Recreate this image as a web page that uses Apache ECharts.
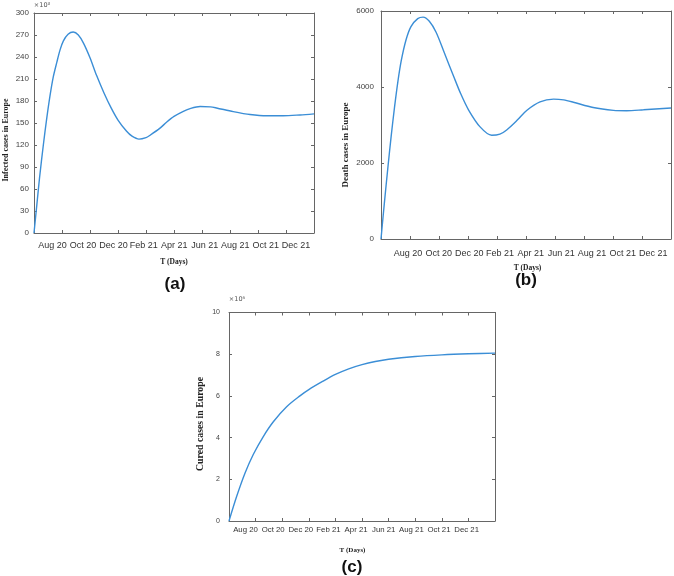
<!DOCTYPE html>
<html><head><meta charset="utf-8">
<script src="https://cdn.jsdelivr.net/npm/echarts@6/dist/echarts.min.js"></script>
<style>html,body{margin:0;padding:0;background:#fff}#c{width:674px;height:576px}</style>
</head><body><div id="c"></div>
<script>
// Tick labels for the time axis (one per 60-day tick)
const monthLabels = ['Aug 20','Oct 20','Dec 20','Feb 21','Apr 21','Jun 21','Aug 21','Oct 21','Dec 21'];

// (a) Infected cases in Europe (x10^3) vs day
const infectedDays = [0,6,12,20,27,34,41,49,56,63,73,84,95,106,120,134,150,165,180,198,210,225,240,248,270,284,300,320,336,356,378,391,427,463,499,534,570,600];
const infectedK   = [0,38,76,120,155,186,212,233,250,262,271,274,270,259,239,215,191,171,154,139,132,128,130,133,143,151,159,166,170,172.5,172,170.5,165.5,161.5,159.8,159.8,161,162.5];

// (b) Death cases in Europe vs day
const deathDays = [0,7,14,21,28,35,42,52,62,76,87,100,114,131,150,165,181,205,229,246,260,282,302,329,357,378,398,439,481,508,543,600];
const deaths    = [0,950,1850,2700,3470,4150,4700,5250,5590,5800,5840,5730,5440,4900,4290,3820,3400,2950,2730,2760,2870,3130,3390,3610,3680,3660,3600,3460,3385,3375,3400,3447];

// (c) Cured cases in Europe (x10^6) vs day
const curedDays = [0,17,36,55,77,100,130,160,180,210,240,270,300,330,360,420,480,540,600];
const curedM    = [0,1.16,2.29,3.2,4.04,4.76,5.48,6.0,6.3,6.68,7.03,7.3,7.5,7.65,7.76,7.89,7.97,8.02,8.05];

const AX = '#666', LBL = '#444', LINE = '#3b8ed6';
const zip = (xs, ys) => xs.map((x, i) => [x, ys[i]]);

const panels = [
  {grid:{left:34,top:13,width:280,height:220}, lab:{left:37.3,width:274,fs:9,margin:8}, ymax:300, yint:30, yfs:8, ymargin:5, data:zip(infectedDays, infectedK)},
  {grid:{left:381,top:11,width:290,height:228}, lab:{left:392.7,width:276,fs:9,margin:10}, ymax:6000, yint:2000, yfs:8, ymargin:7, data:zip(deathDays, deaths)},
  {grid:{left:229,top:312.5,width:266,height:208.5}, lab:{left:231.7,width:248.8,fs:7.8,margin:5}, ymax:10, yint:2, yfs:7, ymargin:9, data:zip(curedDays, curedM)}
];

const grid = [], xAxis = [], yAxis = [], series = [];
const tick = {show:true, inside:true, length:3, lineStyle:{color:AX}};
const line = {show:true, onZero:false, lineStyle:{color:AX, width:1}};
panels.forEach((p, i) => {
  const g = grid.length;
  grid.push(Object.assign({containLabel:false, outerBoundsMode:'none'}, p.grid));
  const xb = xAxis.length;
  xAxis.push({gridIndex:g, type:'value', position:'bottom', min:0, max:600, interval:60, axisLine:line, axisTick:tick, axisLabel:{show:false}, splitLine:{show:false}});
  xAxis.push({gridIndex:g, type:'value', position:'top', min:0, max:600, interval:60, axisLine:line, axisTick:tick, axisLabel:{show:false}, splitLine:{show:false}});
  const yb = yAxis.length;
  yAxis.push({gridIndex:g, type:'value', position:'left', min:0, max:p.ymax, interval:p.yint, axisLine:line, axisTick:tick,
    axisLabel:{fontSize:p.yfs, color:LBL, margin:p.ymargin, fontFamily:'Liberation Sans', formatter:(v) => String(v)}, splitLine:{show:false}});
  yAxis.push({gridIndex:g, type:'value', position:'right', min:0, max:p.ymax, interval:p.yint, axisLine:line, axisTick:tick, axisLabel:{show:false}, splitLine:{show:false}});
  series.push({type:'line', xAxisIndex:xb, yAxisIndex:yb, data:p.data, showSymbol:false, smooth:0.3,
    lineStyle:{color:LINE, width:1.4}, itemStyle:{color:LINE}});
});
// label-only grids carrying the month tick labels
panels.forEach((p) => {
  const g = grid.length;
  grid.push({containLabel:false, outerBoundsMode:'none', left:p.lab.left, width:p.lab.width, top:p.grid.top, height:p.grid.height});
  xAxis.push({gridIndex:g, type:'category', data:monthLabels, boundaryGap:true, position:'bottom',
    axisLine:{show:false}, axisTick:{show:false}, splitLine:{show:false},
    axisLabel:{interval:0, fontSize:p.lab.fs, margin:p.lab.margin, color:'#333', fontFamily:'Liberation Sans'}});
  yAxis.push({gridIndex:g, type:'value', show:false, min:0, max:1});
});

const serif = 'Liberation Serif';
function vtext(x, y, t, fs) {
  return {type:'text', x:x, y:y, rotation:Math.PI/2, style:{text:t, fontFamily:serif, fontWeight:'bold', fontSize:fs, fill:'#222', align:'center', verticalAlign:'middle'}};
}
function htext(x, y, t, fs, ff, fw, col) {
  return {type:'text', x:x, y:y, style:{text:t, fontFamily:ff, fontWeight:fw, fontSize:fs, fill:col, align:'center', verticalAlign:'middle'}};
}
const graphic = [
  vtext(6, 140, 'Infected cases in Europe', 8),
  vtext(346, 145, 'Death cases in Europe', 9),
  vtext(200, 424, 'Cured cases in Europe', 9.8),
  htext(174, 262.5, 'T (Days)', 7.5, serif, 'bold', '#222'),
  htext(527.5, 268.5, 'T (Days)', 7.5, serif, 'bold', '#222'),
  htext(352.5, 550, 'T (Days)', 7, serif, 'bold', '#222'),
  htext(175, 284, '(a)', 17, 'Liberation Sans', 'bold', '#111'),
  htext(526, 280, '(b)', 17, 'Liberation Sans', 'bold', '#111'),
  htext(352, 567, '(c)', 17, 'Liberation Sans', 'bold', '#111'),
  htext(42, 5, '×10³', 6.5, 'DejaVu Sans', 'normal', '#555'),
  htext(237, 299, '×10⁶', 6.5, 'DejaVu Sans', 'normal', '#555')
];

const chart = echarts.init(document.getElementById('c'), null, {renderer:'canvas'});
chart.setOption({animation:false, backgroundColor:'#fff', grid, xAxis, yAxis, series, graphic});
</script></body></html>
